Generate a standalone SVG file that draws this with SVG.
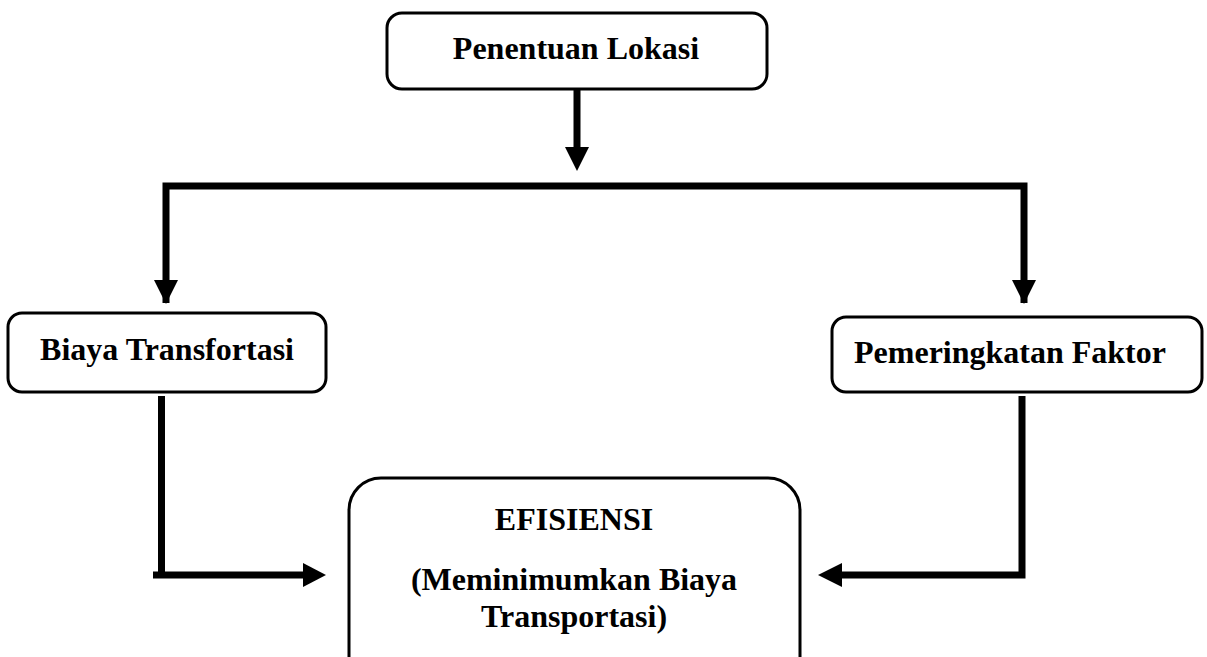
<svg xmlns="http://www.w3.org/2000/svg" width="1207" height="657" viewBox="0 0 1207 657">
<style>
.box{fill:#fff;stroke:#000;stroke-width:3}
.t{font-family:"Liberation Serif","Times New Roman",serif;font-weight:bold;font-size:32px;fill:#000;text-anchor:middle}
.ln{fill:none;stroke:#000;stroke-width:7}
.head{fill:#000}
</style>
<g id="connectors">
<line class="ln" x1="577" y1="89" x2="577" y2="150"/>
<path class="head" d="M565,147 L589,147 L577,171 Z"/>
<path class="ln" d="M166,303 V186 H1024 V303"/>
<path class="head" d="M154,280 L178,280 L166,304 Z"/>
<path class="head" d="M1012,280 L1036,280 L1024,304 Z"/>
<path class="ln" d="M161.5,396 V575 M153,575 H305"/>
<path class="head" d="M303,563 L303,587 L326,575 Z"/>
<path class="ln" d="M1022,396 V575 H840"/>
<path class="head" d="M842,563 L842,587 L818,575 Z"/>
</g>
<g id="node-penentuan">
<rect class="box" x="387" y="13" width="380" height="76" rx="15"/>
<text class="t" x="576" y="59">Penentuan Lokasi</text>
</g>
<g id="node-biaya">
<rect class="box" x="8" y="313" width="318" height="79" rx="14"/>
<text class="t" x="167" y="360">Biaya Transfortasi</text>
</g>
<g id="node-pemeringkatan">
<rect class="box" x="832" y="317" width="370" height="75" rx="14"/>
<text class="t" x="1010" y="363">Pemeringkatan Faktor</text>
</g>
<g id="node-efisiensi">
<rect class="box" x="349" y="478" width="451" height="220" rx="32"/>
<text class="t" x="574" y="530">EFISIENSI</text>
<text class="t" x="574" y="590">(Meminimumkan Biaya</text>
<text class="t" x="574" y="627">Transportasi)</text>
</g>
</svg>
